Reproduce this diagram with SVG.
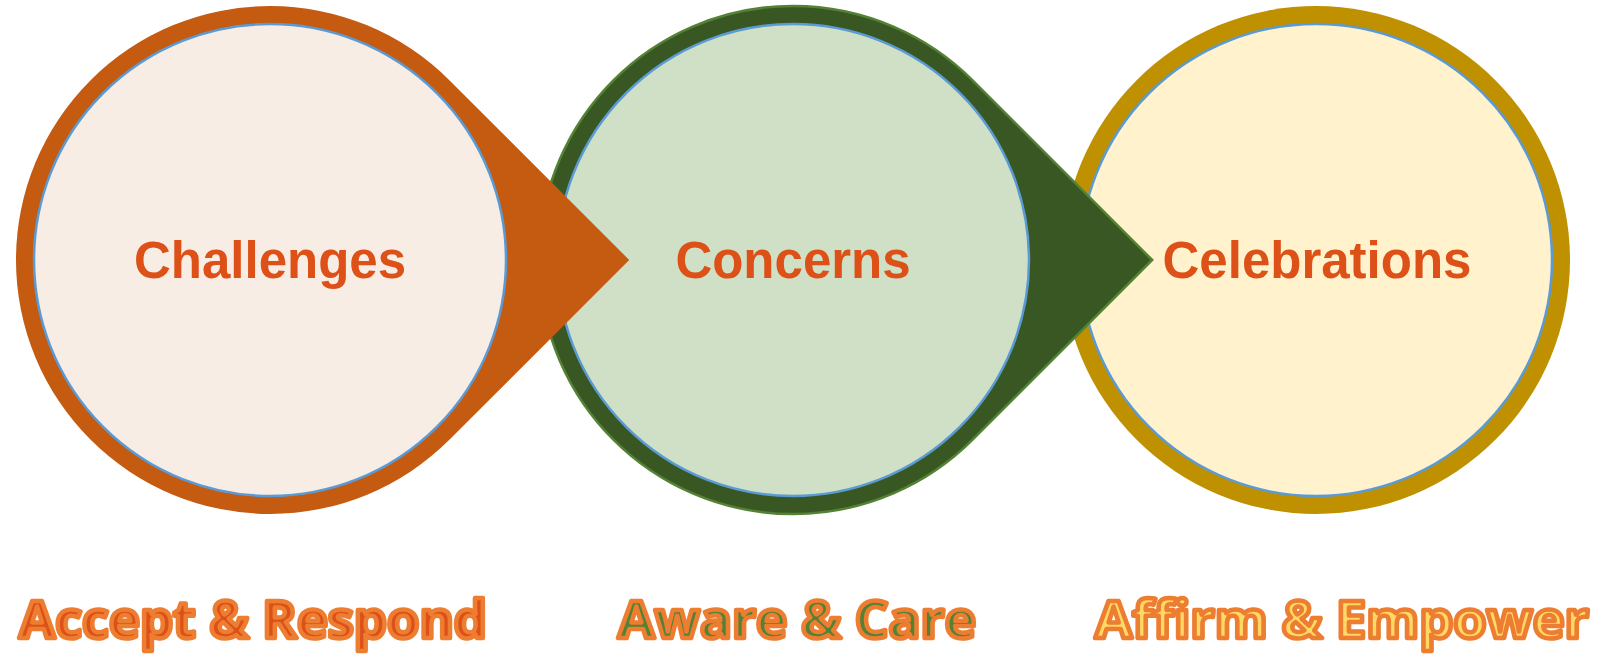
<svg xmlns="http://www.w3.org/2000/svg" width="1602" height="655" viewBox="0 0 1602 655">
  <style>
    .inner { stroke: #5B9BD5; stroke-width: 2.5; }
    .label { font-family: "Liberation Sans", Arial, sans-serif; font-weight: bold; font-size: 51px; fill: #DD5017; text-anchor: middle; }
    .caption { font-family: "Open Sans", "Liberation Sans", sans-serif; font-weight: bold; font-size: 52px; text-anchor: middle; stroke: #ED7D31; stroke-width: 4.5; stroke-linejoin: round; }
  </style>
  <rect width="1602" height="655" fill="#FFFFFF"/>
  <g id="connectors"/>
  <g id="node-celebrations">
    <circle cx="1316" cy="260" r="254" fill="#BF9000"/>
    <circle class="inner" cx="1316" cy="260" r="236" fill="#FFF2CC"/>
    <text class="label" x="1317" y="278">Celebrations</text>
    <text class="caption" x="1342" y="638" fill="#FFD966" textLength="494" lengthAdjust="spacingAndGlyphs">Affirm &amp; Empower</text>
  </g>
  <g id="node-concerns">
    <path d="M 1152.2 260 L 972.6 80.4 A 254 254 0 1 0 972.6 439.6 Z" fill="#385723" stroke="#548235" stroke-width="2.5" stroke-linejoin="miter"/>
    <circle class="inner" cx="793" cy="260" r="236" fill="#D0E0C6"/>
    <text class="label" x="793" y="278">Concerns</text>
    <text class="caption" x="797" y="638" fill="#548235" textLength="358" lengthAdjust="spacingAndGlyphs">Aware &amp; Care</text>
  </g>
  <g id="node-challenges">
    <path d="M 629.2 260 L 449.6 80.4 A 254 254 0 1 0 449.6 439.6 Z" fill="#C55A11"/>
    <circle class="inner" cx="270" cy="260" r="236" fill="#F8EDE5"/>
    <text class="label" x="270" y="278">Challenges</text>
    <text class="caption" x="253" y="638" fill="#DD5017" textLength="468" lengthAdjust="spacingAndGlyphs">Accept &amp; Respond</text>
  </g>
</svg>
